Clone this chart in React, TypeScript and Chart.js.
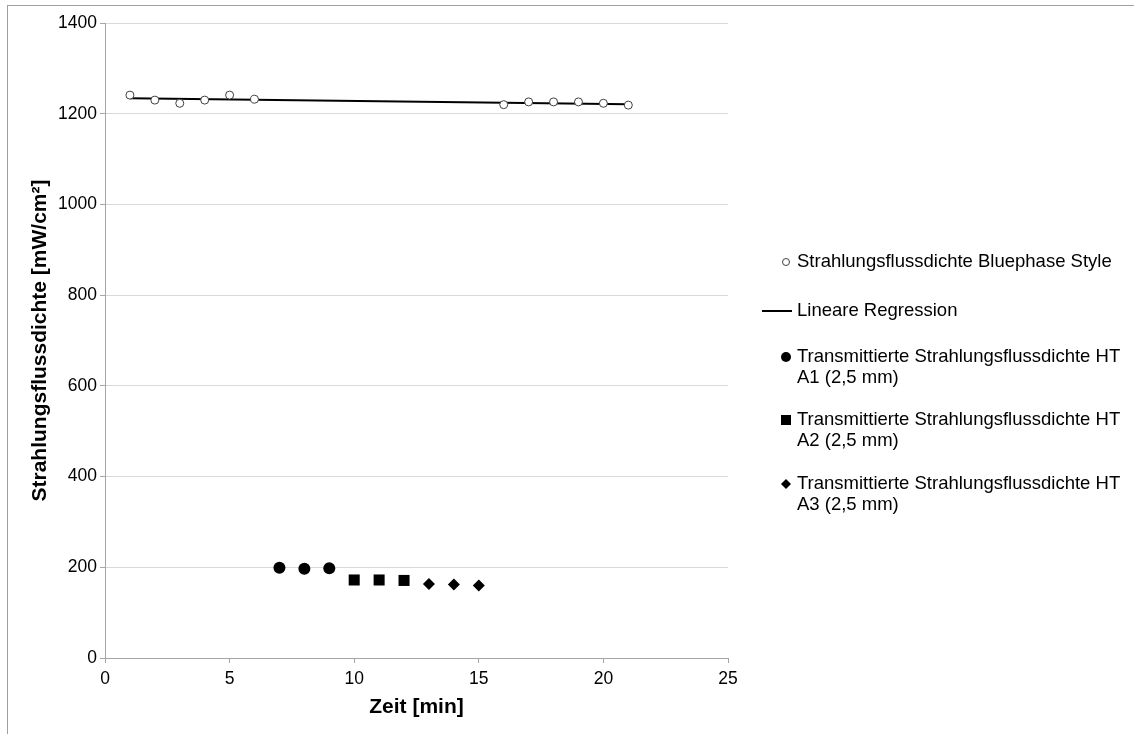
import React, { useEffect, useRef } from "react";
import { Chart, registerables } from "chart.js";

Chart.register(...registerables);

// Time axis (minutes) and measured radiant exitance values
const bluephaseMinutes = [1, 2, 3, 4, 5, 6, 16, 17, 18, 19, 20, 21];
const bluephaseValues = [1241, 1230, 1223, 1230, 1241, 1232, 1220, 1226, 1226, 1226, 1223, 1219];

const regressionMinutes = [1, 21];
const regressionValues = [1234, 1221];

const a1Minutes = [7, 8, 9];
const a1Values = [199, 197, 198];

const a2Minutes = [10, 11, 12];
const a2Values = [172, 172, 171];

const a3Minutes = [13, 14, 15];
const a3Values = [163, 162, 160];

const legendLabels = [
  ["Strahlungsflussdichte Bluephase Style"],
  ["Lineare Regression"],
  ["Transmittierte Strahlungsflussdichte HT", "A1 (2,5 mm)"],
  ["Transmittierte Strahlungsflussdichte HT", "A2 (2,5 mm)"],
  ["Transmittierte Strahlungsflussdichte HT", "A3 (2,5 mm)"],
];

const FONT = "'Liberation Sans', Arial, sans-serif";
const AXIS_GRAY = "#a6a6a6";
const GRID_GRAY = "#d9d9d9";

const toXY = (xs: number[], ys: number[]) => xs.map((x, i) => ({ x, y: ys[i] }));

// Draws the legend on the right, with the symbol of each series
const sideLegend = {
  id: "sideLegend",
  afterDraw(chart: any) {
    const { ctx, chartArea } = chart;
    const markerX = chartArea.right + 58;
    const textX = chartArea.right + 69;
    const rows = [262, 311, 357, 420, 484];
    const lineH = 21;
    ctx.save();
    ctx.font = `18.5px ${FONT}`;
    ctx.fillStyle = "#000";
    ctx.textBaseline = "middle";
    ctx.textAlign = "left";
    legendLabels.forEach((lines, i) => {
      const y = rows[i];
      lines.forEach((t, j) => ctx.fillText(t, textX, y + j * lineH));
      ctx.beginPath();
      if (i === 0) {
        ctx.arc(markerX, y, 3.5, 0, Math.PI * 2);
        ctx.fillStyle = "#fff";
        ctx.fill();
        ctx.strokeStyle = "#404040";
        ctx.lineWidth = 1;
        ctx.stroke();
        ctx.fillStyle = "#000";
      } else if (i === 1) {
        ctx.moveTo(chartArea.right + 34, y);
        ctx.lineTo(chartArea.right + 64, y);
        ctx.strokeStyle = "#000";
        ctx.lineWidth = 2;
        ctx.stroke();
      } else if (i === 2) {
        ctx.arc(markerX, y, 5, 0, Math.PI * 2);
        ctx.fill();
      } else if (i === 3) {
        ctx.rect(markerX - 5, y - 5, 10, 10);
        ctx.fill();
      } else {
        ctx.moveTo(markerX, y - 5);
        ctx.lineTo(markerX + 5, y);
        ctx.lineTo(markerX, y + 5);
        ctx.lineTo(markerX - 5, y);
        ctx.closePath();
        ctx.fill();
      }
    });
    ctx.restore();
  },
};

export default function App() {
  const canvasRef = useRef<HTMLCanvasElement | null>(null);

  useEffect(() => {
    if (!canvasRef.current) return;
    const chart = new Chart(canvasRef.current, {
      type: "scatter",
      data: {
        datasets: [
          {
            label: "Lineare Regression",
            type: "line",
            data: toXY(regressionMinutes, regressionValues),
            borderColor: "#000",
            borderWidth: 2,
            pointRadius: 0,
            fill: false,
            order: 2,
          },
          {
            label: "Strahlungsflussdichte Bluephase Style",
            data: toXY(bluephaseMinutes, bluephaseValues),
            pointStyle: "circle",
            pointRadius: 4,
            backgroundColor: "#fff",
            borderColor: "#404040",
            borderWidth: 1,
            order: 1,
          },
          {
            label: "Transmittierte Strahlungsflussdichte HT A1 (2,5 mm)",
            data: toXY(a1Minutes, a1Values),
            pointStyle: "circle",
            pointRadius: 6,
            backgroundColor: "#000",
            borderColor: "#000",
            borderWidth: 0,
          },
          {
            label: "Transmittierte Strahlungsflussdichte HT A2 (2,5 mm)",
            data: toXY(a2Minutes, a2Values),
            pointStyle: "rect",
            pointRadius: 7.8,
            backgroundColor: "#000",
            borderColor: "#000",
            borderWidth: 0,
          },
          {
            label: "Transmittierte Strahlungsflussdichte HT A3 (2,5 mm)",
            data: toXY(a3Minutes, a3Values),
            pointStyle: "rectRot",
            pointRadius: 6,
            backgroundColor: "#000",
            borderColor: "#000",
            borderWidth: 0,
          },
        ],
      },
      options: {
        responsive: false,
        animation: false,
        layout: { padding: { top: 23, right: 406, left: 0, bottom: 0 } },
        plugins: {
          legend: { display: false },
          tooltip: { enabled: false },
        },
        scales: {
          x: {
            type: "linear",
            min: 0,
            max: 25,
            ticks: {
              stepSize: 5,
              color: "#000",
              font: { family: FONT, size: 17.5 },
              padding: 6,
              callback: (v: any) => String(v),
            },
            grid: {
              drawOnChartArea: false,
              drawTicks: true,
              tickLength: 5,
              color: AXIS_GRAY,
            },
            border: { color: AXIS_GRAY, width: 1 },
            title: {
              display: true,
              text: "Zeit [min]",
              color: "#000",
              font: { family: FONT, size: 21, weight: "bold" },
              padding: { top: 0, bottom: 14 },
            },
            afterFit: (s: any) => {
              s.height = 76;
            },
          },
          y: {
            type: "linear",
            min: 0,
            max: 1400,
            ticks: {
              stepSize: 200,
              color: "#000",
              font: { family: FONT, size: 17.5 },
              padding: 3,
              callback: (v: any) => String(v),
            },
            grid: {
              color: GRID_GRAY,
              tickColor: AXIS_GRAY,
              tickLength: 5,
            },
            border: { color: AXIS_GRAY, width: 1 },
            title: {
              display: true,
              text: "Strahlungsflussdichte [mW/cm²]",
              color: "#000",
              font: { family: FONT, size: 21, weight: "bold" },
              padding: { top: 28, bottom: 0 },
            },
            afterFit: (s: any) => {
              s.width = 105;
            },
          },
        },
      },
      plugins: [sideLegend],
    });
    return () => chart.destroy();
  }, []);

  return (
    <div style={{ position: "absolute", left: 0, top: 0, width: 1134, height: 734, background: "#fff", overflow: "hidden" }}>
      <div
        style={{
          position: "absolute",
          left: 7,
          top: 5,
          width: 1200,
          height: 800,
          borderTop: "1px solid #a0a0a0",
          borderLeft: "1px solid #a0a0a0",
        }}
      />
      <canvas ref={canvasRef} width={1134} height={734} style={{ position: "absolute", left: 0, top: 0 }} />
    </div>
  );
}
